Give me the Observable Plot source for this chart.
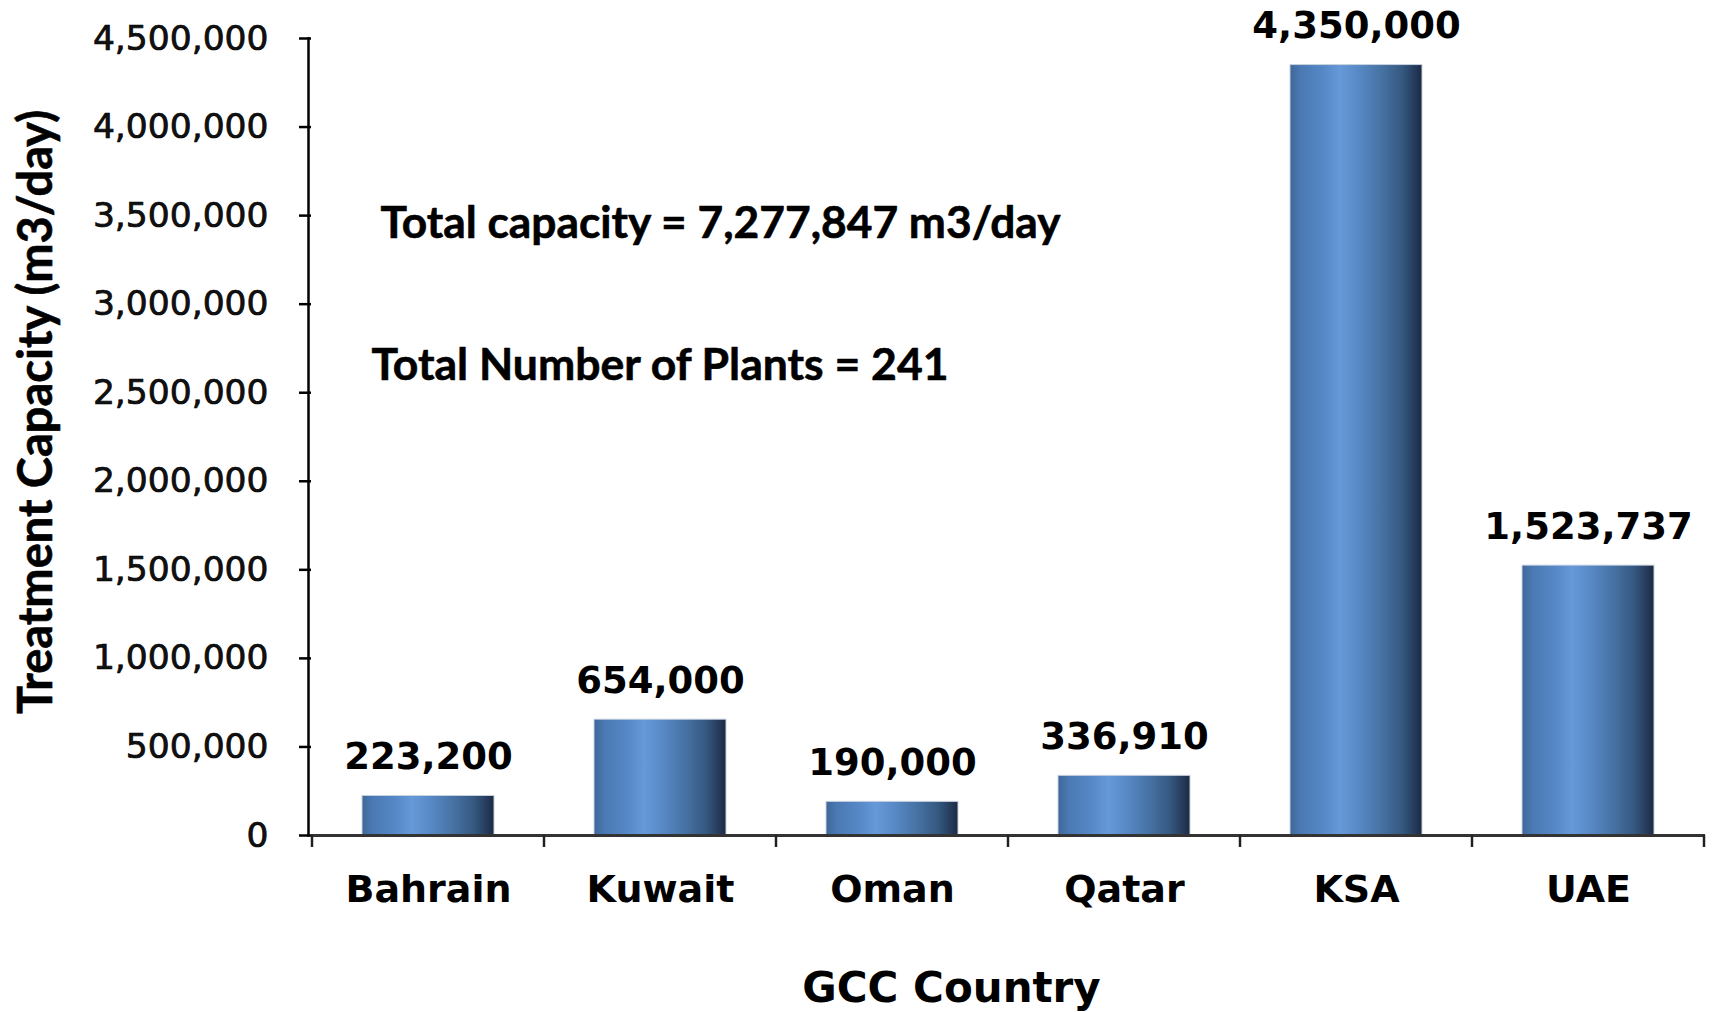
<!DOCTYPE html>
<html>
<head>
<meta charset="utf-8">
<script src="https://cdn.jsdelivr.net/npm/d3@7"></script>
<script src="https://cdn.jsdelivr.net/npm/@observablehq/plot@0.6"></script>
<style>
  html, body { margin: 0; padding: 0; background: #fff; }
  #chart { width: 1719px; height: 1012px; }
</style>
</head>
<body>
<div id="chart"></div>
<script>
const countries = ["Bahrain", "Kuwait", "Oman", "Qatar", "KSA", "UAE"];
const capacity = [223200, 654000, 190000, 336910, 4350000, 1523737];
const yTicks = [0, 500000, 1000000, 1500000, 2000000, 2500000, 3000000, 3500000, 4000000, 4500000];
const yLabel = "Treatment Capacity (m3/day)";
const xLabel = "GCC Country";
const notes = ["Total capacity = 7,277,847 m3/day", "Total Number of Plants = 241"];

const data = countries.map((c, i) => ({country: c, capacity: capacity[i]}));
const fmt = d3.format(",");

const W = 1719, H = 1012;
const mL = 311, mR = 14, mT = 38, mB = 177;

// gradient defs as a function mark
const gradientDefs = () => {
  const defs = d3.create("svg:defs");
  const g = defs.append("linearGradient").attr("id", "barGrad")
    .attr("x1", "0").attr("x2", "1").attr("y1", "0").attr("y2", "0");
  [
    [0, "#3e6798"], [0.08, "#4a79b3"], [0.25, "#5688c7"], [0.38, "#6699d8"],
    [0.5, "#5a8bc9"], [0.7, "#4571a2"], [0.85, "#355880"], [0.95, "#25395a"], [1, "#1b2a42"]
  ].forEach(([o, c]) => g.append("stop").attr("offset", o).attr("stop-color", c));
  return defs.node();
};

// x ticks at band boundaries, derived from the x scale
const xBoundaryTicks = (index, scales, values, dims) => {
  const x = scales.x, y = scales.y;
  const bw = x.bandwidth ? x.bandwidth() : 0;
  const step = x.step ? x.step() : (dims.width - dims.marginLeft - dims.marginRight) / countries.length;
  const y0 = y(0);
  const g = d3.create("svg:g").attr("stroke", "#222").attr("stroke-width", 2.5);
  const xs = countries.map(c => x(c) + bw / 2 - step / 2);
  xs.push(x(countries[countries.length - 1]) + bw / 2 + step / 2);
  xs.forEach(px => g.append("line").attr("x1", px).attr("x2", px).attr("y1", y0).attr("y2", y0 + 12));
  return g.node();
};

const chart = Plot.plot({
  width: W,
  height: H,
  marginLeft: mL,
  marginRight: mR,
  marginTop: mT,
  marginBottom: mB,
  style: {background: "#fff", color: "#000", overflow: "visible"},
  x: {domain: countries, paddingInner: 0.43, paddingOuter: 0.215, label: null},
  y: {domain: [0, 4500000], label: null},
  marks: [
    gradientDefs,
    Plot.barY(data, {x: "country", y: "capacity", fill: "url(#barGrad)", stroke: "#c9d2de", strokeWidth: 1}),
    Plot.axisY({
      ticks: yTicks, tickFormat: fmt, tickSize: 12, tickPadding: 31,
      fontSize: 34.5, fontFamily: "DejaVu Sans", stroke: "#000", strokeWidth: 2.5, label: null, fill: "#111"
    }),
    Plot.axisX({
      tickSize: 0, tickPadding: 40, fontSize: 38, fontFamily: "DejaVu Sans", fontWeight: "bold", label: null, fill: "#000"
    }),
    Plot.frame({anchor: "left", stroke: "#000", strokeWidth: 2.5, dx: -3}),
    Plot.ruleY([0], {stroke: "#333", strokeWidth: 3}),
    xBoundaryTicks,
    Plot.text(data, {
      x: "country", y: "capacity", text: d => fmt(d.capacity),
      lineAnchor: "bottom", dy: -27, fontSize: 37, fontWeight: "bold", fontFamily: "DejaVu Sans", fill: "#000"
    }),
    Plot.text([yLabel], {
      frameAnchor: "left", textAnchor: "middle", rotate: -90, dx: -275, dy: -25, lineAnchor: "middle",
      fontSize: 47, fontWeight: "bold", fontFamily: "Lato", fill: "#000", stroke: "#000", strokeWidth: 0.6
    }),
    Plot.text([xLabel], {
      frameAnchor: "bottom", textAnchor: "middle", dx: -57, dy: 153, lineAnchor: "middle",
      fontSize: 42, fontWeight: "bold", fontFamily: "DejaVu Sans", fill: "#000"
    }),
    Plot.text([notes[0]], {
      frameAnchor: "top-left", textAnchor: "start", dx: 69, dy: 185, lineAnchor: "middle",
      fontSize: 44.3, fontWeight: "bold", fontFamily: "Lato", fill: "#000", stroke: "#000", strokeWidth: 0.6
    }),
    Plot.text([notes[1]], {
      frameAnchor: "top-left", textAnchor: "start", dx: 60, dy: 327, lineAnchor: "middle",
      fontSize: 44.5, fontWeight: "bold", fontFamily: "Lato", fill: "#000", stroke: "#000", strokeWidth: 0.6
    })
  ]
});

// slightly heavier y tick labels, as in the reference
d3.select(chart).selectAll("g[aria-label='y-axis tick label'] text")
  .attr("stroke", "#000").attr("stroke-width", 0.7);

document.getElementById("chart").appendChild(chart);
</script>
</body>
</html>
